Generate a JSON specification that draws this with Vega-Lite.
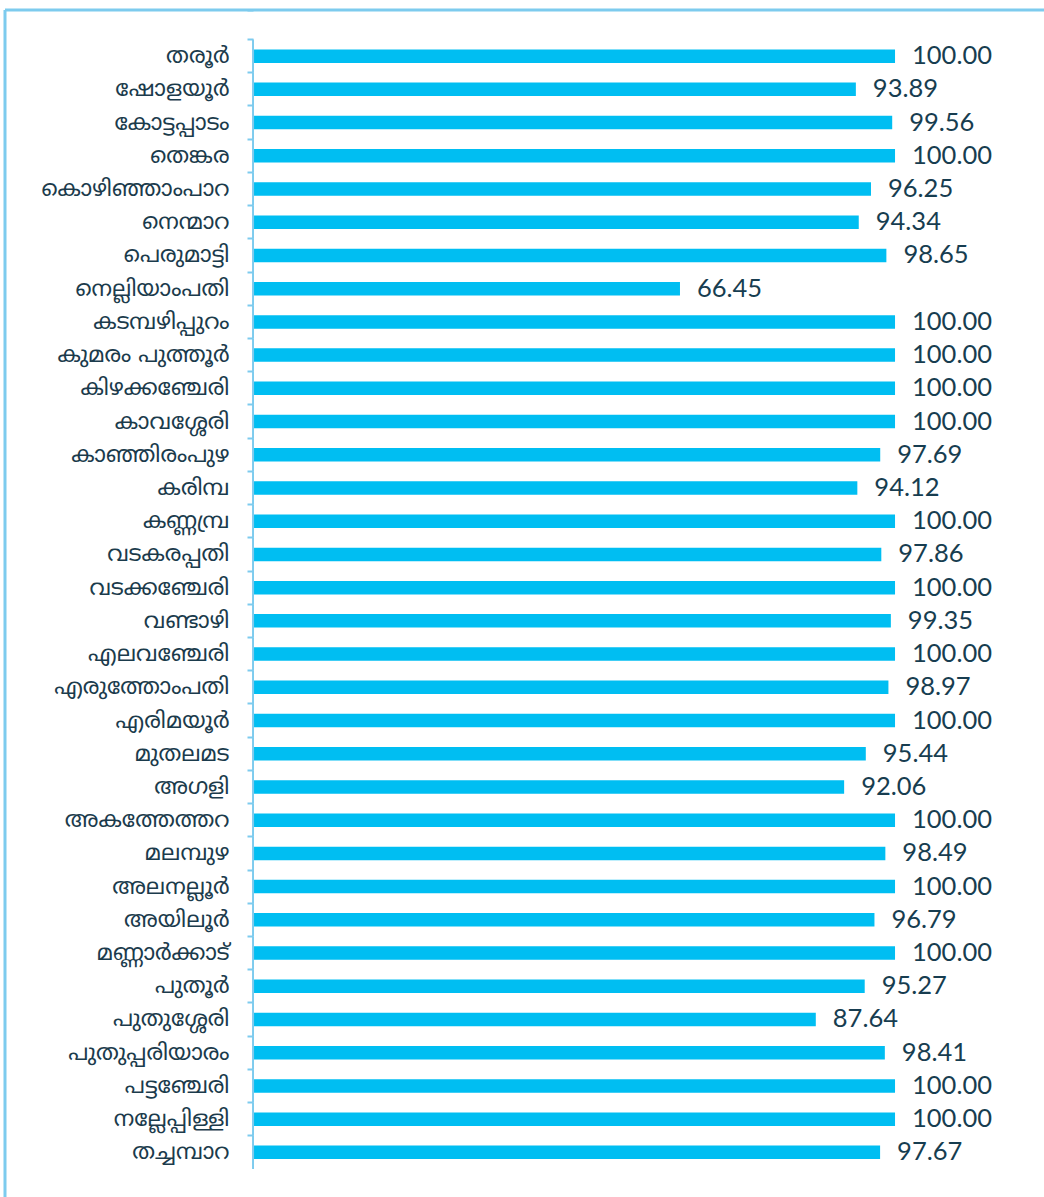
{
  "$schema": "https://vega.github.io/schema/vega-lite/v6.json",
  "width": 1039,
  "height": 1187,
  "autosize": {"type": "none"},
  "padding": {"left": 5, "top": 10, "right": 0, "bottom": 0},
  "background": "white",
  "config": {
    "view": {"stroke": "#7dcbee", "strokeWidth": 3, "strokeDash": [1039, 2226, 1187, 0]}
  },
  "data": {
    "values": [
      {"block": "തരൂർ", "value": 100.00},
      {"block": "ഷോളയൂർ", "value": 93.89},
      {"block": "കോട്ടപ്പാടം", "value": 99.56},
      {"block": "തെങ്കര", "value": 100.00},
      {"block": "കൊഴിഞ്ഞാംപാറ", "value": 96.25},
      {"block": "നെന്മാറ", "value": 94.34},
      {"block": "പെരുമാട്ടി", "value": 98.65},
      {"block": "നെല്ലിയാംപതി", "value": 66.45},
      {"block": "കടമ്പഴിപ്പുറം", "value": 100.00},
      {"block": "കുമരം പുത്തൂർ", "value": 100.00},
      {"block": "കിഴക്കഞ്ചേരി", "value": 100.00},
      {"block": "കാവശ്ശേരി", "value": 100.00},
      {"block": "കാഞ്ഞിരംപുഴ", "value": 97.69},
      {"block": "കരിമ്പ", "value": 94.12},
      {"block": "കണ്ണമ്പ്ര", "value": 100.00},
      {"block": "വടകരപ്പതി", "value": 97.86},
      {"block": "വടക്കഞ്ചേരി", "value": 100.00},
      {"block": "വണ്ടാഴി", "value": 99.35},
      {"block": "എലവഞ്ചേരി", "value": 100.00},
      {"block": "എരുത്തോംപതി", "value": 98.97},
      {"block": "എരിമയൂർ", "value": 100.00},
      {"block": "മുതലമട", "value": 95.44},
      {"block": "അഗളി", "value": 92.06},
      {"block": "അകത്തേത്തറ", "value": 100.00},
      {"block": "മലമ്പുഴ", "value": 98.49},
      {"block": "അലനല്ലൂർ", "value": 100.00},
      {"block": "അയിലൂർ", "value": 96.79},
      {"block": "മണ്ണാർക്കാട്", "value": 100.00},
      {"block": "പുതൂർ", "value": 95.27},
      {"block": "പുതുശ്ശേരി", "value": 87.64},
      {"block": "പുതുപ്പരിയാരം", "value": 98.41},
      {"block": "പട്ടഞ്ചേരി", "value": 100.00},
      {"block": "നല്ലേപ്പിള്ളി", "value": 100.00},
      {"block": "തച്ചമ്പാറ", "value": 97.67}
    ]
  },
  "encoding": {
    "y": {
      "field": "block",
      "type": "nominal",
      "sort": null,
      "scale": {"paddingInner": 0, "paddingOuter": 0.866, "align": 0.513},
      "axis": {
        "orient": "left",
        "offset": -248,
        "title": null,
        "domain": false,
        "bandPosition": 0,
        "tickExtra": true,
        "tickSize": 6,
        "tickWidth": 2,
        "tickColor": "#7dcbee",
        "labelPadding": 18,
        "labelFont": "Noto Sans Malayalam, Manjari, Noto Sans",
        "labelFontSize": 22.5,
        "labelFontWeight": "normal",
        "labelColor": "#1b3b4c",
        "labelLimit": 0
      }
    }
  },
  "layer": [
    {
      "mark": {"type": "bar", "height": {"band": 1}, "color": "#7dcbee"},
      "encoding": {
        "x": {"datum": -0.31, "type": "quantitative", "scale": {"domain": [-38.85, 123.24], "nice": false, "zero": false}, "axis": null},
        "x2": {"datum": 0}
      }
    },
    {
      "mark": {"type": "bar", "height": 13.5, "color": "#00bef2"},
      "encoding": {
        "x": {"field": "value", "type": "quantitative", "scale": {"domain": [-38.85, 123.24], "nice": false, "zero": false}, "axis": null}
      }
    },
    {
      "mark": {"type": "text", "align": "left", "baseline": "middle", "dx": 17, "font": "Lato", "fontSize": 25.5, "color": "#173d50"},
      "encoding": {
        "x": {"field": "value", "type": "quantitative", "scale": {"domain": [-38.85, 123.24], "nice": false, "zero": false}, "axis": null},
        "text": {"field": "value", "type": "quantitative", "format": ".2f"}
      }
    }
  ]
}
